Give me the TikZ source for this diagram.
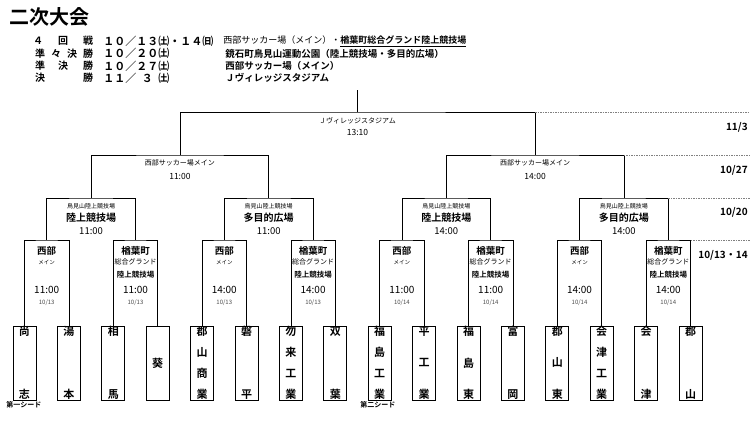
\documentclass[tikz,border=0pt]{standalone}
\usepackage{fontspec}
\setmainfont{Noto Sans CJK JP}[BoldFont={Noto Sans CJK JP Bold}]
\usetikzlibrary{calc}
\newcommand\fsz[1]{\fontsize{#1}{#1}\selectfont}
\begin{document}
\begin{tikzpicture}[x=1pt,y=-1pt,line width=0.7pt,
  lbl/.style={inner sep=0pt},
  team/.style={draw, minimum width=23pt, minimum height=74pt, inner sep=0pt, font={\fsz{11}\bfseries}},
  ext/.style={draw=gray, dash pattern=on 1.5pt off 1pt, line width=0.6pt},
  rlab/.style={inner sep=0pt, anchor=east, font={\fsz{10}\bfseries}}]
\useasboundingbox (0,0) rectangle (750,423);

% title
\node[lbl,anchor=west,font={\fsz{20}\bfseries}] (title) at (9,17) {二次大会};

% schedule
\begin{scope}[every node/.style={inner sep=0pt,font={\fsz{10}\bfseries}}]
\node (a1) at (38,41) {４};
\node (a2) at (63,41) {回};
\node (a3) at (88,41) {戦};
\node (b1) at (40,53.5) {準};
\node (b2) at (56,53.5) {々};
\node (b3) at (72,53.5) {決};
\node (b4) at (88,53.5) {勝};
\node (c1) at (40,66) {準};
\node (c2) at (63,66) {決};
\node (c3) at (88,66) {勝};
\node (d1) at (40,78) {決};
\node (d2) at (88,78) {勝};
\end{scope}
\begin{scope}[every node/.style={inner sep=0pt,anchor=west,font={\fsz{11}\bfseries}}]
\node (da1) at (103,41) {１０／１３㈯・１４㈰};
\node (da2) at (103,53.5) {１０／２０㈯};
\node (da3) at (103,66) {１０／２７㈯};
\node (da4) at (103,78) {１１／\makebox[22pt]{３}㈯};
\end{scope}
\node[lbl,anchor=west,font={\fsz{9}}] (v1) at (223,41) {西部サッカー場（メイン）・\underline{\bfseries 楢葉町総合グランド陸上競技場}};
\node[lbl,anchor=west,font={\fsz{9.5}\bfseries}] (v2) at (225,53.5) {鏡石町鳥見山運動公園（陸上競技場・多目的広場）};
\node[lbl,anchor=west,font={\fsz{9.5}\bfseries}] (v3) at (225,66) {西部サッカー場（メイン）};
\node[lbl,anchor=west,font={\fsz{9.5}\bfseries}] (v4) at (225,78) {Ｊヴィレッジスタジアム};

% teams
\node[team] (t1) at (24.5,363) {\parbox[c][72pt][s]{12pt}{\centering 尚\par\vfill 志}};
\node[team] (t2) at (68.9,363) {\parbox[c][72pt][s]{12pt}{\centering 湯\par\vfill 本}};
\node[team] (t3) at (113.3,363) {\parbox[c][72pt][s]{12pt}{\centering 相\par\vfill 馬}};
\node[team] (t4) at (157.7,363) {\parbox[c][72pt][s]{12pt}{\centering\vfill 葵\par\vfill}};
\node[team] (t5) at (202.1,363) {\parbox[c][72pt][s]{12pt}{\centering 郡\par\vfill 山\par\vfill 商\par\vfill 業}};
\node[team] (t6) at (246.5,363) {\parbox[c][72pt][s]{12pt}{\centering 磐\par\vfill 平}};
\node[team] (t7) at (290.9,363) {\parbox[c][72pt][s]{12pt}{\centering 勿\par\vfill 来\par\vfill 工\par\vfill 業}};
\node[team] (t8) at (335.3,363) {\parbox[c][72pt][s]{12pt}{\centering 双\par\vfill 葉}};
\node[team] (t9) at (379.7,363) {\parbox[c][72pt][s]{12pt}{\centering 福\par\vfill 島\par\vfill 工\par\vfill 業}};
\node[team] (t10) at (424.1,363) {\parbox[c][72pt][s]{12pt}{\centering 平\par\vfill 工\par\vfill 業}};
\node[team] (t11) at (468.5,363) {\parbox[c][72pt][s]{12pt}{\centering 福\par\vfill 島\par\vfill 東}};
\node[team] (t12) at (512.9,363) {\parbox[c][72pt][s]{12pt}{\centering 富\par\vfill 岡}};
\node[team] (t13) at (557.3,363) {\parbox[c][72pt][s]{12pt}{\centering 郡\par\vfill 山\par\vfill 東}};
\node[team] (t14) at (601.7,363) {\parbox[c][72pt][s]{12pt}{\centering 会\par\vfill 津\par\vfill 工\par\vfill 業}};
\node[team] (t15) at (646.1,363) {\parbox[c][72pt][s]{12pt}{\centering 会\par\vfill 津}};
\node[team] (t16) at (690.5,363) {\parbox[c][72pt][s]{12pt}{\centering 郡\par\vfill 山}};

\node[lbl,anchor=west,font={\fsz{7}\bfseries}] (seed1) at (6,405) {第一シード};
\node[lbl,anchor=west,font={\fsz{7}\bfseries}] (seed2) at (360,405) {第二シード};

% bracket points
\foreach \k/\xx in {1/46.7,2/135.5,3/224.3,4/313.1,5/401.9,6/490.7,7/579.5,8/668.3}
  \coordinate (r\k) at (\xx,240);
\foreach \k/\xx in {1/91.1,2/268.7,3/446.3,4/623.9}
  \coordinate (q\k) at (\xx,198);
\coordinate (s1) at (179.9,155);
\coordinate (s2) at (535.1,155);
\coordinate (f) at (357.5,112);
\coordinate (ftop) at (357.5,90);

% connectors
\foreach \k [evaluate=\k as \a using int(2*\k-1), evaluate=\k as \b using int(2*\k)] in {1,...,8}
  \draw (t\a.north) |- (r\k) -| (t\b.north);
\draw (r1) |- (q1) -| (r2);
\draw (r3) |- (q2) -| (r4);
\draw (r5) |- (q3) -| (r6);
\draw (r7) |- (q4) -| (r8);
\draw (q1) |- (s1) -| (q2);
\draw (q3) |- (s2) -| (q4);
\draw (s1) |- (f) -| (s2);
\draw (f) -- (ftop);

% dashed extensions
\coordinate (e1) at (750,112);
\coordinate (e2) at (750,155);
\coordinate (e3) at (750,198);
\coordinate (e4) at (750,240);
\draw[ext] (s2 |- f) -- (e1);
\draw[ext] (q4 |- s2) -- (e2);
\draw[ext] (r8 |- q4) -- (e3);
\draw[ext] (t16.north |- r8) -- (e4);

% right labels
\node[rlab] (d113) at (748,127) {11/3};
\node[rlab] (d1027) at (748,170) {10/27};
\node[rlab] (d1020) at (748,212) {10/20};
\node[rlab] (d1013) at (748,255) {10/13・14};

% final labels
\node[lbl,font={\fsz{7}}] (fl1) at ($(f)+(0,9)$) {Ｊヴィレッジスタジアム};
\node[lbl,font={\fsz{8.5}}] (fl2) at ($(f)+(0,20)$) {13:10};
% semifinal labels
\foreach \k/\t in {1/11:00,2/14:00}{
  \node[lbl,font={\fsz{7}}] (sl\k) at ($(s\k)+(0,8)$) {西部サッカー場メイン};
  \node[lbl,font={\fsz{8.5}}] (st\k) at ($(s\k)+(0,21)$) {\t};
}
% quarterfinal labels
\foreach \k/\v/\t in {1/陸上競技場/11:00,2/多目的広場/11:00,3/陸上競技場/14:00,4/多目的広場/14:00}{
  \node[lbl,font={\fsz{6}}] (qa\k) at ($(q\k)+(0,8)$) {鳥見山陸上競技場};
  \node[lbl,font={\fsz{10}\bfseries}] (qb\k) at ($(q\k)+(0,20)$) {\v};
  \node[lbl,font={\fsz{9.5}}] (qc\k) at ($(q\k)+(0,33)$) {\t};
}
% round of 16 labels
\foreach \k/\t/\d in {1/11:00/13,3/14:00/13,5/11:00/14,7/14:00/14}{
  \node[lbl,font={\fsz{9.5}\bfseries}] (ra\k) at ($(r\k)+(0,11)$) {西部};
  \node[lbl,font={\fsz{5.5}}] (rb\k) at ($(r\k)+(0,22)$) {メイン};
  \node[lbl,font={\fsz{10}}] (rc\k) at ($(r\k)+(0,50)$) {\t};
  \node[lbl,font={\fsz{6}},text=black!70] (rd\k) at ($(r\k)+(0,63)$) {10/\d};
}
\foreach \k/\t/\d in {2/11:00/13,4/14:00/13,6/11:00/14,8/14:00/14}{
  \node[lbl,font={\fsz{9.5}\bfseries}] (ra\k) at ($(r\k)+(0,11)$) {楢葉町};
  \node[lbl,font={\fsz{7}}] (rb\k) at ($(r\k)+(0,22)$) {総合グランド};
  \node[lbl,font={\fsz{7.5}\bfseries}] (re\k) at ($(r\k)+(0,35)$) {陸上競技場};
  \node[lbl,font={\fsz{10}}] (rc\k) at ($(r\k)+(0,50)$) {\t};
  \node[lbl,font={\fsz{6}},text=black!70] (rd\k) at ($(r\k)+(0,63)$) {10/\d};
}
\end{tikzpicture}
\end{document}
